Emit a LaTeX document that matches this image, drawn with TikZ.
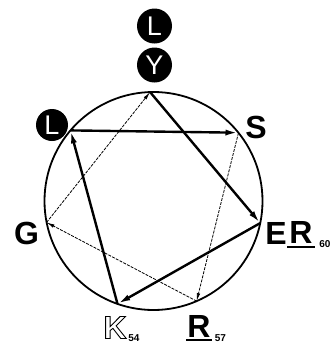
\documentclass[tikz,border=0pt]{standalone}
\usepackage{fontspec}
\setmainfont{Liberation Sans}
\usetikzlibrary{arrows.meta}
\newcommand{\hollowtext}[1]{\special{pdf:literal direct 1 Tr 0.9 w}#1\special{pdf:literal direct 0 Tr}}
\begin{document}
\begin{tikzpicture}[x=1pt,y=-1pt,
  ring/.style={line width=1.8pt},
  strong/.style={line width=2.4pt,-{Latex[length=13pt,width=6pt]}},
  weak/.style={line width=0.8pt,dash pattern=on 3pt off 1.2pt,-{Latex[length=8pt,width=3.5pt]}},
  letter/.style={inner sep=0pt,font=\fontsize{32}{32}\selectfont\bfseries},
  subs/.style={inner sep=0pt,font=\fontsize{10}{10}\selectfont\bfseries},
  badge/.style={circle,fill=black,text=white,minimum size=35pt,inner sep=0pt,font=\fontsize{27}{27}\selectfont}]
\useasboundingbox (0,0) rectangle (330,346);
\coordinate (c) at (153.5,201);
\draw[ring] (c) circle (109);
\coordinate (Y) at (150.1,92.1);
\coordinate (S) at (238.5,132.7);
\coordinate (E) at (260.2,223.1);
\coordinate (R) at (196.6,301.1);
\coordinate (K) at (117.5,303.9);
\coordinate (G) at (46.6,222.4);
\coordinate (L) at (70.5,130.4);
% solid arrows
\draw[strong] (L) -- (S);
\draw[strong] (Y) -- (E);
\draw[strong] (E) -- (K);
\draw[strong] (K) -- (L);
% dashed arrows
\draw[weak] (S) -- (R);
\draw[weak] (R) -- (G);
\draw[weak] (G) -- (Y);
% badges
\node[badge] (bL1) at (154.5,26) {L};
\node[badge] (bY) at (154.5,65) {Y};
\node[badge,minimum size=32pt] (bL2) at (52,125) {L};
% letters
\node[letter] (tS) at (256,127) {S};
\node[letter] (tG) at (26.5,233.5) {G};
\node[letter] (tE) at (276,233.5) {E};
\node[letter] (tR60) at (301,232.5) {R};
\node[letter] (tK) at (115,327.5) {\hollowtext{K}};
\node[letter] (tR57) at (199,326) {R};
\draw[line width=2pt] ([xshift=-2pt,yshift=-3pt]tR60.south west) -- ([xshift=2pt,yshift=-3pt]tR60.south east);
\draw[line width=2pt] ([xshift=-1pt,yshift=-3pt]tR57.south west) -- ([xshift=1pt,yshift=-3pt]tR57.south east);
\node[subs] (s60) at (325,244.5) {60};
\node[subs] (s54) at (134,338.5) {54};
\node[subs] (s57) at (220.5,338) {57};
\end{tikzpicture}
\end{document}
